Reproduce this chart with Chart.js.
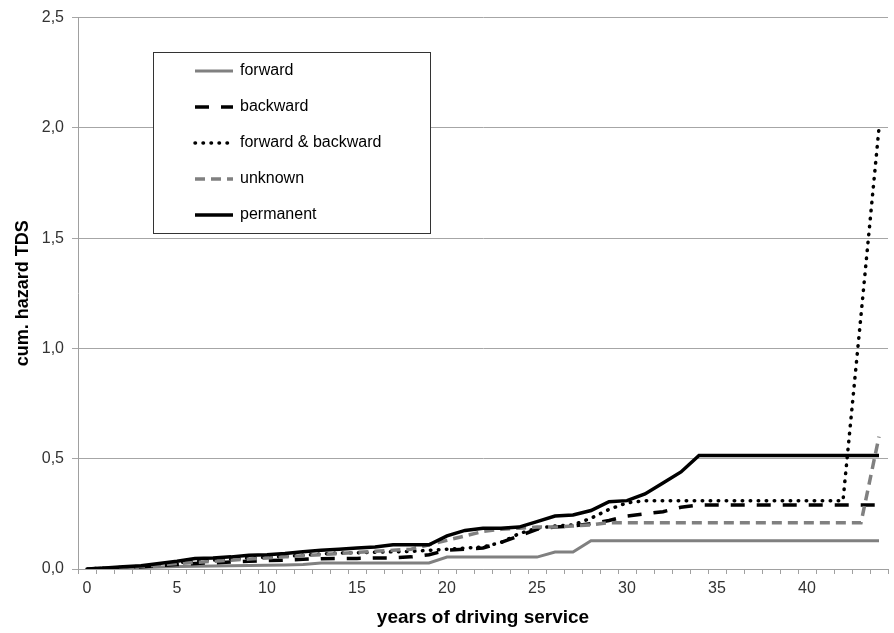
<!DOCTYPE html>
<html>
<head>
<meta charset="utf-8">
<script src="https://cdn.jsdelivr.net/npm/chart.js@4.4.0/dist/chart.umd.min.js"></script>
<style>
  html, body { margin: 0; padding: 0; background: #fff; }
  #wrap { width: 894px; height: 633px; position: relative; }
</style>
</head>
<body>
<div id="wrap"><canvas id="hazardChart"></canvas></div>
<script>
const years = ['0','1','2','3','4','5','6','7','8','9','10','11','12','13','14','15','16','17','18','19','20',
  '21','22','23','24','25','26','27','28','29','30','31','32','33','34','35','36','37','38','39','40','41','42','43','44'];
const xTickLabels = ['0','5','10','15','20','25','30','35','40'];

const forward = [0, 0.003, 0.005, 0.007, 0.009, 0.011, 0.013, 0.014, 0.015, 0.016, 0.017, 0.018, 0.02, 0.027, 0.027,
  0.027, 0.027, 0.027, 0.027, 0.027, 0.054, 0.054, 0.054, 0.054, 0.054, 0.054, 0.077, 0.077, 0.128, 0.128,
  0.128, 0.128, 0.128, 0.128, 0.128, 0.128, 0.128, 0.128, 0.128, 0.128, 0.128, 0.128, 0.128, 0.128, 0.128];
const backward = [0, 0.003, 0.006, 0.01, 0.015, 0.02, 0.025, 0.028, 0.032, 0.035, 0.038, 0.04, 0.044, 0.047, 0.048,
  0.048, 0.05, 0.05, 0.055, 0.065, 0.085, 0.09, 0.095, 0.12, 0.15, 0.18, 0.19, 0.195, 0.205, 0.22,
  0.24, 0.25, 0.26, 0.28, 0.29, 0.29, 0.29, 0.29, 0.29, 0.29, 0.29, 0.29, 0.29, 0.29, 0.29];
const fwdBwd = [0, 0.004, 0.008, 0.012, 0.02, 0.028, 0.035, 0.04, 0.045, 0.05, 0.053, 0.057, 0.062, 0.068, 0.072,
  0.074, 0.076, 0.078, 0.08, 0.085, 0.09, 0.095, 0.1, 0.12, 0.16, 0.185, 0.195, 0.2, 0.23, 0.27,
  0.3, 0.31, 0.31, 0.31, 0.31, 0.31, 0.31, 0.31, 0.31, 0.31, 0.31, 0.31, 0.31, 1.15, 2.0];
const unknown = [0, 0.004, 0.008, 0.012, 0.018, 0.025, 0.03, 0.035, 0.04, 0.045, 0.05, 0.055, 0.06, 0.065, 0.07,
  0.075, 0.08, 0.085, 0.09, 0.11, 0.13, 0.15, 0.17, 0.18, 0.185, 0.19, 0.19, 0.195, 0.2, 0.21,
  0.21, 0.21, 0.21, 0.21, 0.21, 0.21, 0.21, 0.21, 0.21, 0.21, 0.21, 0.21, 0.21, 0.21, 0.6];
const permanent = [0, 0.005, 0.01, 0.015, 0.025, 0.035, 0.048, 0.05, 0.055, 0.062, 0.065, 0.07, 0.078, 0.085, 0.09,
  0.095, 0.1, 0.11, 0.11, 0.11, 0.15, 0.175, 0.185, 0.185, 0.19, 0.215, 0.24, 0.245, 0.265, 0.305,
  0.31, 0.34, 0.39, 0.44, 0.515, 0.515, 0.515, 0.515, 0.515, 0.515, 0.515, 0.515, 0.515, 0.515, 0.515];

const FONT = "'Liberation Sans', Arial, sans-serif";

// legend drawn as a white box inside the plot, like the original
const boxLegend = {
    id: 'boxLegend',
    afterDatasetsDraw(chart) {
        const ctx = chart.ctx;
        ctx.save();
        ctx.fillStyle = '#ffffff';
        ctx.fillRect(153.5, 52.5, 277, 181);
        ctx.strokeStyle = '#333333';
        ctx.lineWidth = 1;
        ctx.setLineDash([]);
        ctx.strokeRect(153.5, 52.5, 277, 181);
        chart.data.datasets.forEach(function (ds, i) {
            const y = 71 + i * 36;
            ctx.beginPath();
            ctx.setLineDash(ds.borderDash || []);
            ctx.lineCap = ds.borderCapStyle || 'butt';
            ctx.strokeStyle = ds.borderColor;
            ctx.lineWidth = ds.borderWidth;
            ctx.moveTo(195, y);
            ctx.lineTo(233, y);
            ctx.stroke();
            ctx.setLineDash([]);
            ctx.fillStyle = '#000';
            ctx.font = '16px ' + FONT;
            ctx.textBaseline = 'middle';
            ctx.textAlign = 'left';
            ctx.fillText(ds.label, 240, y);
        });
        ctx.restore();
    }
};

const ctx = document.getElementById('hazardChart').getContext('2d');
const hazardChart = new Chart(ctx, {
    type: 'line',
    data: {
        labels: years,
        datasets: [
            {
                label: 'forward',
                data: forward,
                borderColor: '#808080',
                borderWidth: 3,
                order: 4,
            },
            {
                label: 'backward',
                data: backward,
                borderColor: '#000000',
                borderWidth: 3.5,
                borderDash: [14, 12],
                order: 3,
            },
            {
                label: 'forward & backward',
                data: fwdBwd,
                borderColor: '#000000',
                borderWidth: 3.5,
                borderDash: [0.5, 7.5],
                borderCapStyle: 'round',
                order: 2,
            },
            {
                label: 'unknown',
                data: unknown,
                borderColor: '#808080',
                borderWidth: 3.5,
                borderDash: [10, 6],
                order: 1,
            },
            {
                label: 'permanent',
                data: permanent,
                borderColor: '#000000',
                borderWidth: 3.5,
                order: 0,
            }
        ]
    },
    options: {
        responsive: true,
        maintainAspectRatio: false,
        animation: false,
        layout: { padding: { top: 16, right: 6, left: 0, bottom: 0 } },
        elements: {
            point: { radius: 0, hoverRadius: 0 },
            line: { tension: 0, fill: false, backgroundColor: 'transparent' }
        },
        plugins: {
            legend: { display: false },
            tooltip: { enabled: false }
        },
        scales: {
            x: {
                type: 'category',
                offset: true,
                grid: { offset: true, drawOnChartArea: false, drawTicks: true, tickLength: 5, color: '#a0a0a0' },
                border: { color: '#a0a0a0', width: 1 },
                ticks: {
                    autoSkip: false,
                    maxRotation: 0,
                    padding: 5,
                    color: '#333333',
                    font: { family: FONT, size: 16 },
                    callback: function (value) {
                        const lab = this.getLabelForValue(value);
                        return xTickLabels.includes(lab) ? lab : '';
                    }
                },
                title: {
                    display: true,
                    text: 'years of driving service',
                    color: '#000',
                    font: { family: FONT, size: 19, weight: 'bold' },
                    padding: { top: 0, bottom: 4 }
                },
                afterFit: function (scale) { scale.height = 64; }
            },
            y: {
                min: 0,
                max: 2.5,
                grid: { color: '#a6a6a6', tickLength: 6 },
                border: { color: '#a0a0a0', width: 1 },
                ticks: {
                    stepSize: 0.5,
                    padding: 8,
                    color: '#333333',
                    font: { family: FONT, size: 16 },
                    callback: function (value) { return value.toFixed(1).replace('.', ','); }
                },
                title: {
                    display: true,
                    text: 'cum. hazard TDS',
                    color: '#000',
                    font: { family: FONT, size: 18, weight: 'bold' },
                    padding: { top: 12, bottom: 0 }
                },
                afterFit: function (scale) { scale.width = 78; }
            }
        }
    },
    plugins: [boxLegend]
});
</script>
</body>
</html>
